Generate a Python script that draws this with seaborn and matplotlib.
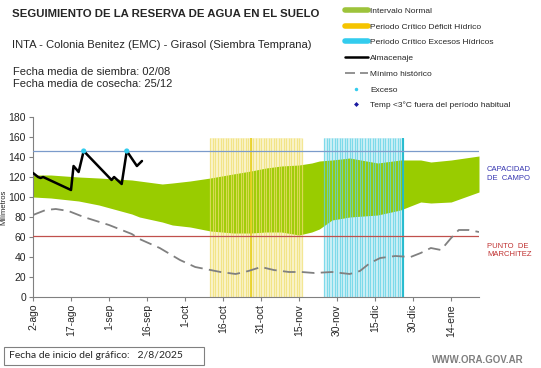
import matplotlib
matplotlib.use("Agg")
import matplotlib.pyplot as plt
import seaborn as sns
import pandas as pd
from matplotlib.lines import Line2D
from matplotlib.patches import Rectangle

sns.set_style("white")
plt.rcParams["font.family"] = ["Liberation Sans", "DejaVu Sans"]

# ---- data ----
tick_days = [0, 15, 30, 45, 60, 75, 90, 105, 120, 135, 150, 165]
tick_labels = ["2-ago", "17-ago", "1-sep", "16-sep", "1-oct", "16-oct", "31-oct",
               "15-nov", "30-nov", "15-dic", "30-dic", "14-ene"]

band_days = [0, 7, 18, 26, 39, 42, 51, 55, 62, 70, 79, 86, 92, 98, 105, 110, 113,
             118, 125, 136, 145, 153, 157, 165, 176]
band_upper = [122, 122, 120, 119, 117, 116, 113, 114, 116, 119, 123, 126, 129, 131,
              132, 134, 136, 137, 139, 134, 137, 137, 135, 137, 141]
band_lower = [100, 99, 96, 92, 83, 80, 75, 72, 70, 66, 64, 64, 65, 65, 62, 65, 68,
              77, 80, 82, 87, 95, 94, 95, 105]

min_days = [0, 5, 9, 14, 20, 30, 39, 42, 50, 58, 64, 70, 74, 80, 85, 90, 95, 101,
            106, 111, 118, 125, 129, 133, 137, 143, 149, 153, 157, 161, 165, 168,
            172, 176]
min_hist = [82, 87, 88, 86, 80, 72, 63, 58, 49, 37, 30, 27, 25, 23, 26, 30, 27, 25,
            25, 24, 25, 23, 26, 34, 39, 41, 40, 44, 49, 47, 59, 67, 67, 65]

alm_days = [0, 2, 3, 4, 15, 16, 18, 20, 31, 32, 35, 37, 41, 43]
alm_vals = [124, 120, 119, 120, 107, 131, 125, 146, 117, 120, 113, 146, 131, 136]

exceso_days = [20, 37]
exceso_vals = [146, 146]

deficit_period = (70, 106)
deficit_mark = 86
excesos_period = (115, 146)
excesos_mark = 146
stripe_top = 159

capacidad_campo = 146
punto_marchitez = 61

# ---- figure ----
fig = plt.figure(figsize=(5.41, 3.68), dpi=100)
ax = fig.add_axes([33 / 541, 71 / 368, 446 / 541, 180 / 368])

green = "#99cc00"
ax.fill_between(list(deficit_period), [0, 0], [stripe_top, stripe_top],
                color="#fbf5cf", lw=0, zorder=0)
ax.fill_between(list(excesos_period), [0, 0], [stripe_top, stripe_top],
                color="#d4f2f7", lw=0, zorder=0)

ax.fill_between(band_days, band_lower, band_upper, color=green, lw=0, zorder=1)

ax.vlines(list(range(deficit_period[0], deficit_period[1] + 1)), 0, stripe_top,
          color="#efdf70", lw=0.9, alpha=0.75, zorder=2)
ax.vlines([deficit_mark], 0, stripe_top, color="#e8d020", lw=1.2, zorder=2)
ax.vlines(list(range(excesos_period[0], excesos_period[1] + 1)), 0, stripe_top,
          color="#62d2e6", lw=0.9, alpha=0.75, zorder=2)
ax.vlines([excesos_mark], 0, stripe_top, color="#1cb8cc", lw=1.3, zorder=2)

ax.axhline(capacidad_campo, color="#7b9bcb", lw=0.9, zorder=3)
ax.axhline(punto_marchitez, color="#c0504d", lw=0.9, zorder=3)

df_min = pd.DataFrame({"dia": min_days, "mm": min_hist})
sns.lineplot(data=df_min, x="dia", y="mm", ax=ax, color="#808080", lw=1.3,
             dashes=False, zorder=4)
ax.lines[-1].set_dashes([7, 3.5])

df_alm = pd.DataFrame({"dia": alm_days, "mm": alm_vals})
sns.lineplot(data=df_alm, x="dia", y="mm", ax=ax, color="black", lw=1.8, zorder=5)

df_exc = pd.DataFrame({"dia": exceso_days, "mm": exceso_vals})
sns.scatterplot(data=df_exc, x="dia", y="mm", ax=ax, color="#33ccee", s=14,
                edgecolor="none", zorder=6)

ax.set_xlim(0, 176)
ax.set_ylim(0, 180)
ax.set_xticks(tick_days)
ax.set_xticklabels(tick_labels, rotation=90, fontsize=7.5)
ax.set_yticks(range(0, 181, 20))
ax.tick_params(axis="y", labelsize=7.5, length=3, direction="out", color="#808080", pad=2)
ax.tick_params(axis="x", length=3, direction="out", color="#808080", pad=2)
ax.tick_params(bottom=True, left=True)
for s in ["top", "right"]:
    ax.spines[s].set_visible(False)
for s in ["left", "bottom"]:
    ax.spines[s].set_color("#808080")
    ax.spines[s].set_linewidth(0.8)
ax.set_xlabel("")
ax.set_ylabel("Milímetros", fontsize=5.5)
ax.yaxis.set_label_coords(-0.058, 0.5)

# ---- texts ----
fig.text(12 / 541, 1 - 14 / 368, "SEGUIMIENTO DE LA RESERVA DE AGUA EN EL SUELO",
         fontsize=8.2, weight="bold", va="center")
fig.text(12 / 541, 1 - 45 / 368,
         "INTA - Colonia Benitez (EMC) - Girasol (Siembra Temprana)",
         fontsize=8.1, va="center")
fig.text(13 / 541, 1 - 72 / 368, "Fecha media de siembra: 02/08", fontsize=8, va="center")
fig.text(13 / 541, 1 - 84 / 368, "Fecha media de cosecha: 25/12", fontsize=8, va="center")

fig.text(487 / 541, 1 - 170 / 368, "CAPACIDAD", fontsize=5.5, color="#3535b0", va="center")
fig.text(487 / 541, 1 - 179 / 368, "DE  CAMPO", fontsize=5.5, color="#3535b0", va="center")
fig.text(487 / 541, 1 - 246 / 368, "PUNTO  DE", fontsize=5.5, color="#c03030", va="center")
fig.text(487 / 541, 1 - 255 / 368, "MARCHITEZ", fontsize=5.5, color="#c03030", va="center")

fig.add_artist(Rectangle((4 / 541, 1 - 365 / 368), 200 / 541, 18 / 368,
                         transform=fig.transFigure, fill=False,
                         edgecolor="#808080", lw=0.8))
fig.text(9 / 541, 1 - 356 / 368, "Fecha de inicio del gráfico:   2/8/2025",
         fontsize=7.5, family=["Lato", "DejaVu Sans"], va="center")
fig.text(478 / 541, 1 - 360 / 368, "WWW.ORA.GOV.AR", fontsize=7, weight="bold",
         color="#7f7f7f", ha="center", va="center")

handles = [
    Line2D([], [], color="#9dc33b", lw=4),
    Line2D([], [], color="#f5c400", lw=4),
    Line2D([], [], color="#33ccee", lw=4),
    Line2D([], [], color="black", lw=1.8),
    Line2D([], [], color="#808080", lw=1.2, dashes=[6, 3]),
    Line2D([], [], color="#33ccee", marker="o", ms=2.5, lw=0, markeredgewidth=0),
    Line2D([], [], color="#1a1aa0", marker="D", ms=2.5, lw=0, markeredgewidth=0),
]
labels = ["Intervalo Normal", "Periodo Crítico Déficit Hídrico",
          "Periodo Crítico Excesos Hídricos", "Almacenaje", "Mínimo histórico",
          "Exceso", "Temp <3°C fuera del período habitual"]
fig.legend(handles, labels, loc="upper left", bbox_to_anchor=(345 / 541, 1 - 7 / 368),
           frameon=False, fontsize=6, handlelength=2.7, handletextpad=0.35,
           labelspacing=0.95, borderaxespad=0, borderpad=0)

fig.savefig("out.png", dpi=100)
